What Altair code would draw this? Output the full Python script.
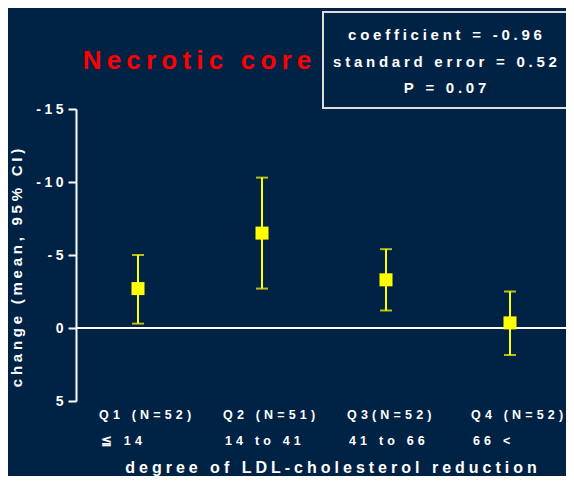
import altair as alt
import pandas as pd

# ---- data ----
categories = ["Q1", "Q2", "Q3", "Q4"]
means = [-2.7, -6.5, -3.3, -0.35]
ci_low = [-5.0, -10.3, -5.4, -2.5]   # upper whisker (more negative)
ci_high = [-0.3, -2.7, -1.2, 1.85]   # lower whisker
label_line1 = ["Q1 (N=52)", "Q2 (N=51)", "Q3(N=52)", "Q4 (N=52)"]
label_line2 = ["≦ 14", "14 to 41", "41 to 66", "66 <"]
y_ticks = [-15, -10, -5, 0, 5]
y_tick_labels = ["-15", "-10", "-5", "0", "5"]
title_text = "Necrotic core"
stats_lines = ["coefficient = -0.96", "standard error = 0.52", "P = 0.07"]
y_title = "change (mean, 95% CI)"
x_title = "degree of LDL-cholesterol reduction"

BG = "#002244"
YEL = "#FFFF00"
FONT = "Liberation Sans"


def spaced(s, sep="\u2005"):
    return sep.join(list(s))


df = pd.DataFrame({
    "cat": categories, "mean": means, "lo": ci_low, "hi": ci_high,
    "l1": [spaced(s, "\u2004") for s in label_line1],
    "l2": [spaced(s, "\u2004") for s in label_line2],
})

W, H = 488, 292
XR = 496  # span of the category scale

xscale = alt.Scale(type="point", domain=categories, padding=0.5, range=[0, XR])
yscale = alt.Scale(domain=[-15, 5], reverse=True, nice=False, zero=False)

label_expr = " : ".join(
    f"datum.value == {v} ? '{spaced(t)}'" for v, t in zip(y_ticks, y_tick_labels)
) + " : ''"

base = alt.Chart(df)

yaxis = alt.Axis(
    values=y_ticks, labelExpr=label_expr, grid=False,
    domainColor="white", domainWidth=2, tickColor="white", tickWidth=2,
    tickSize=8, labelColor="white", labelFont=FONT, labelFontSize=14,
    labelFontWeight="bold", labelPadding=5, title=None,
)

xenc = alt.X("cat:N", scale=xscale, axis=None)

rules = base.mark_rule(color=YEL, strokeWidth=2).encode(
    x=xenc,
    y=alt.Y("lo:Q", scale=yscale, axis=yaxis),
    y2="hi:Q",
)
caps_lo = base.mark_tick(color=YEL, size=12, thickness=2, orient="horizontal").encode(
    x=xenc, y=alt.Y("lo:Q", scale=yscale),
)
caps_hi = base.mark_tick(color=YEL, size=12, thickness=2, orient="horizontal").encode(
    x=xenc, y=alt.Y("hi:Q", scale=yscale),
)
zero_line = alt.Chart(pd.DataFrame({"z": [0]})).mark_rule(
    color="white", strokeWidth=2
).encode(
    y=alt.Y("z:Q", scale=yscale),
    x=alt.value(0), x2=alt.value(W + 2),
)
points = base.mark_square(color=YEL, size=169, opacity=1, filled=True).encode(
    x=xenc, y=alt.Y("mean:Q", scale=yscale),
)

lab1 = base.mark_text(
    color="white", font=FONT, fontSize=12.5, fontWeight="bold",
    align="left", baseline="middle", dx=-39,
).encode(x=xenc, y=alt.value(306), text="l1:N")
lab2 = base.mark_text(
    color="white", font=FONT, fontSize=12.5, fontWeight="bold",
    align="left", baseline="middle", dx=-37,
).encode(x=xenc, y=alt.value(332), text="l2:N")

ytitle = alt.Chart(pd.DataFrame({"t": [spaced(y_title)]})).mark_text(
    color="white", font=FONT, fontSize=15, fontWeight="bold",
    align="center", baseline="middle", angle=270,
).encode(x=alt.value(-59), y=alt.value(H / 2 + 13), text="t:N")

xtitle = alt.Chart(pd.DataFrame({"t": [spaced(x_title, "\u2005")]})).mark_text(
    color="white", font=FONT, fontSize=16, fontWeight="bold",
    align="center", baseline="middle",
).encode(x=alt.value(255), y=alt.value(359), text="t:N")

title = alt.Chart(pd.DataFrame({"t": [spaced(title_text, "\u2009")]})).mark_text(
    color="#FF0000", font=FONT, fontSize=26, fontWeight="bold",
    align="center", baseline="middle",
).encode(x=alt.value(121), y=alt.value(-48), text="t:N")

box = alt.Chart(pd.DataFrame({"b": [0]})).mark_rect(
    fill=BG, stroke="#DDDDDD", strokeWidth=2
).encode(
    x=alt.value(247), x2=alt.value(497), y=alt.value(-97), y2=alt.value(-1),
)

stats_df = pd.DataFrame({
    "t": [spaced(s) for s in stats_lines],
    "yy": [-74, -47, -21],
})
stats = alt.Chart(stats_df).mark_text(
    color="white", font=FONT, fontSize=15, fontWeight="bold",
    align="center", baseline="middle",
).encode(x=alt.value(369), y=alt.Y("yy:Q", scale=None), text="t:N")

chart = alt.layer(
    zero_line, rules, caps_lo, caps_hi, points, lab1, lab2, ytitle, xtitle,
    title, box, stats
).properties(
    width=W, height=H,
    background=BG,
    autosize=alt.AutoSizeParams(type="none"),
    padding={"left": 68, "top": 101, "right": 2, "bottom": 75},
).configure_view(stroke=None)

chart.save("out.html", embed_options={"renderer": "svg", "actions": False})
